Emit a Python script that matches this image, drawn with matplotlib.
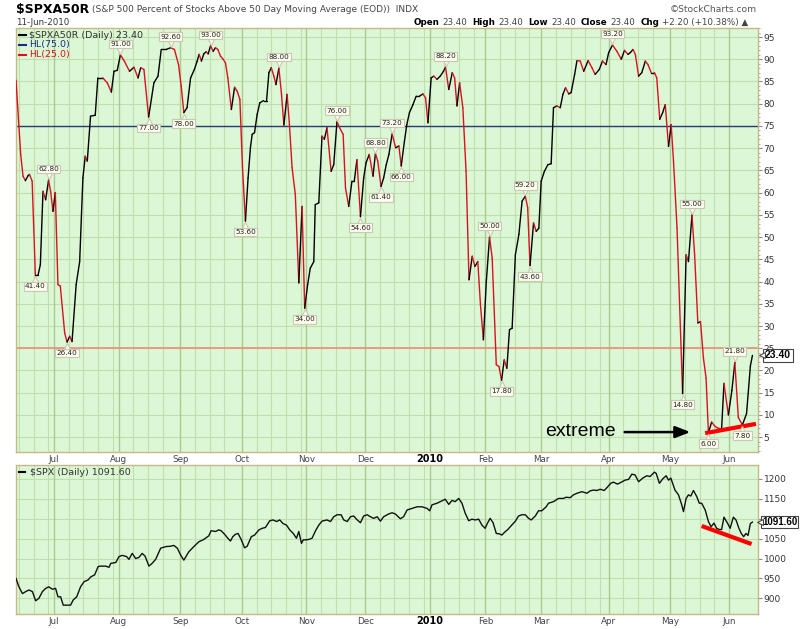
import numpy as np
import pandas as pd
import matplotlib
matplotlib.use("Agg")
import matplotlib.pyplot as plt
from matplotlib.collections import LineCollection
from matplotlib.transforms import offset_copy

# ---------------- data (x = trading session number, 0 = 1-Jul-2009) ----------------
a50_x = [-13.0, -11.4, -10.6, -9.8, -8.9, -8.4, -7.5, -6.4, -5.5, -4.7,
         -3.8, -2.9, -1.9, -1.2, -0.4, 0.4, 1.3, 2.1, 3.6, 4.4,
         5.3, 6.1, 7.5, 8.7, 9.8, 10.6, 11.3, 12.4, 14.0, 14.9,
         16.6, 18.1, 19.5, 20.4, 21.5, 22.6, 23.9, 25.7, 27.2, 28.6,
         29.5, 30.6, 32.2, 34.0, 35.4, 36.5, 38.2, 39.7, 41.0, 42.4,
         43.3, 44.2, 45.3, 46.5, 47.8, 48.7, 49.4, 50.2, 51.0, 51.8,
         52.5, 53.3, 54.2, 55.0, 55.8, 56.7, 57.6, 58.4, 59.2, 60.4,
         61.5, 62.4, 63.3, 64.2, 65.2, 66.1, 66.9, 67.5, 68.3, 69.2,
         70.1, 71.4, 72.4, 73.2, 74.0, 74.9, 75.6, 76.6, 77.5, 78.3,
         79.4, 80.2, 81.1, 82.2, 83.4, 84.5, 85.4, 86.4, 87.3, 88.5,
         89.0, 90.2, 91.3, 92.1, 93.0, 94.4, 95.3, 96.4, 97.3, 98.5,
         99.3, 100.4, 101.5, 102.3, 103.2, 104.4, 105.5, 106.3, 107.4, 108.7,
         109.5, 110.3, 111.4, 112.3, 113.2, 114.1, 115.2, 116.4, 117.5, 118.3,
         119.4, 120.2, 121.1, 122.3, 123.4, 124.5, 125.7, 126.6, 127.4, 128.5,
         129.4, 130.5, 131.6, 132.7, 133.4, 134.5, 135.7, 136.5, 137.3, 138.2,
         139.3, 140.4, 141.4, 142.5, 143.4, 144.4, 145.3, 146.3, 147.3, 148.4,
         149.3, 150.7, 151.6, 152.5, 153.4, 154.3, 155.2, 156.1, 157.2, 158.4,
         159.5, 160.6, 161.4, 162.2, 163.4, 164.3, 165.2, 166.0, 167.1, 168.3,
         169.4, 170.2, 171.3, 172.5, 173.4, 174.3, 175.4, 176.2, 177.4, 178.2,
         179.3, 180.5, 182.0, 183.3, 184.4, 185.8, 186.9, 188.1, 189.0, 190.3,
         191.8, 193.3, 194.4, 195.6, 196.4, 197.3, 198.1, 199.2, 200.3, 201.5,
         202.4, 203.5, 204.6, 205.4, 206.4, 207.4, 208.3, 209.4, 210.3, 211.1,
         212.3, 214.2, 215.4, 216.2, 217.4, 218.3, 219.4, 220.3, 221.3, 222.2,
         223.0, 224.1, 225.3, 226.4, 227.5, 228.3, 229.8, 231.0, 232.0, 233.2,
         234.6, 236.0, 237.3, 238.0]
a50_y = [85.3, 68.6, 63.7, 62.7, 63.8, 64.1, 62.6, 41.4, 41.4, 43.8,
         60.3, 58.4, 62.8, 60.3, 55.8, 60.0, 39.3, 39.0, 28.4, 26.4,
         27.7, 26.5, 39.3, 44.5, 63.3, 68.2, 67.1, 77.2, 77.4, 85.8,
         85.8, 84.7, 82.6, 87.3, 87.5, 91.0, 89.6, 87.3, 88.2, 85.8,
         88.1, 87.7, 77.0, 84.7, 86.2, 92.2, 92.2, 92.6, 92.2, 88.8,
         84.0, 78.0, 79.1, 85.8, 87.7, 89.5, 91.1, 89.6, 91.2, 91.7,
         91.2, 93.0, 91.8, 92.6, 92.2, 90.7, 90.0, 89.2, 85.8, 78.7,
         83.7, 82.8, 81.0, 65.6, 53.6, 63.3, 70.1, 73.1, 73.5, 77.6,
         80.2, 80.7, 80.7, 87.0, 88.1, 86.2, 84.3, 88.0, 82.1, 75.2,
         82.1, 75.3, 65.6, 59.6, 39.7, 56.9, 34.0, 39.3, 43.0, 44.5,
         57.3, 57.7, 72.7, 72.0, 74.6, 64.8, 66.3, 76.0, 74.6, 73.1,
         61.1, 56.9, 62.6, 62.6, 67.4, 54.6, 63.3, 66.7, 68.6, 63.7,
         68.8, 67.1, 61.4, 63.3, 66.3, 68.6, 73.2, 70.1, 70.5, 66.0,
         71.6, 75.3, 78.0, 79.8, 81.7, 81.7, 82.2, 81.3, 75.7, 85.8,
         86.2, 85.5, 86.2, 87.3, 88.2, 83.2, 87.0, 85.8, 79.5, 84.7,
         79.1, 64.8, 40.4, 45.7, 43.4, 44.5, 34.8, 26.9, 40.0, 50.0,
         45.3, 21.3, 20.9, 17.8, 22.4, 20.5, 29.2, 29.5, 46.0, 50.6,
         58.1, 59.2, 56.6, 43.6, 53.2, 51.3, 52.0, 62.6, 64.8, 66.3,
         66.5, 79.1, 79.5, 79.1, 82.1, 83.6, 82.2, 82.5, 86.6, 89.7,
         89.6, 87.3, 89.7, 88.1, 86.6, 87.7, 89.6, 88.8, 91.5, 93.2,
         91.8, 90.0, 92.0, 91.1, 91.5, 92.2, 91.1, 86.2, 87.0, 89.6,
         88.8, 87.0, 87.0, 85.8, 76.5, 78.0, 79.8, 70.4, 75.3, 67.1,
         52.1, 14.8, 46.0, 44.5, 55.0, 46.0, 30.7, 31.0, 22.8, 18.3,
         6.0, 8.4, 7.4, 7.0, 6.9, 17.1, 10.0, 15.5, 21.8, 9.4,
         7.8, 10.3, 21.0, 23.4]

spx_x = [-13.0, -12.0, -10.8, -9.7, -8.6, -7.4, -6.3, -5.2, -4.0, -2.9,
         -1.8, -0.6, 0.5, 1.3, 2.2, 3.1, 3.9, 5.6, 6.5, 7.7,
         9.0, 10.2, 11.5, 12.5, 13.8, 15.0, 15.9, 17.6, 18.7, 19.3,
         21.0, 22.1, 23.2, 24.7, 25.5, 26.6, 27.8, 28.9, 30.0, 31.0,
         32.3, 33.4, 34.6, 36.3, 38.0, 39.7, 40.8, 42.0, 43.1, 44.2,
         45.9, 47.6, 49.3, 51.0, 52.7, 53.5, 55.0, 56.1, 56.9, 58.1,
         59.2, 60.1, 60.9, 61.8, 62.7, 63.8, 64.9, 65.8, 67.2, 68.3,
         69.8, 70.9, 72.0, 73.5, 74.6, 75.8, 76.9, 78.0, 79.2, 80.3,
         81.5, 82.6, 83.4, 84.3, 84.9, 85.7, 86.8, 87.9, 89.1, 90.2,
         91.3, 93.0, 94.2, 95.3, 96.4, 97.8, 98.7, 99.9, 101.0, 102.1,
         103.3, 104.4, 105.5, 106.7, 107.8, 108.9, 110.1, 111.2, 112.3, 114.0,
         115.2, 116.3, 118.0, 119.1, 120.3, 122.0, 123.7, 125.4, 127.1, 128.0,
         128.8, 130.5, 132.2, 133.3, 134.5, 135.6, 136.7, 137.9, 139.0, 140.1,
         141.3, 142.4, 143.5, 144.7, 145.8, 146.9, 147.7, 148.6, 149.6, 150.7,
         151.8, 152.6, 153.8, 154.5, 156.0, 157.2, 158.3, 159.4, 160.6, 161.7,
         162.6, 164.0, 165.1, 166.2, 167.7, 168.5, 170.2, 171.9, 173.6, 174.5,
         175.9, 177.0, 178.2, 179.9, 181.6, 182.7, 183.8, 185.0, 186.1, 187.5,
         188.4, 189.7, 190.6, 192.0, 193.1, 194.6, 195.8, 196.9, 198.0, 199.2,
         200.6, 202.0, 203.1, 204.6, 205.2, 206.3, 207.4, 208.6, 209.4, 210.2,
         211.6, 212.8, 213.9, 214.5, 215.4, 216.2, 217.0, 217.9, 219.0, 219.9,
         220.7, 221.9, 223.0, 223.9, 224.9, 225.8, 226.7, 227.5, 228.3, 229.5,
         230.4, 231.5, 232.4, 233.4, 234.2, 235.0, 235.8, 236.5, 237.3, 238.0]
spx_y = [950, 929, 912, 917, 921, 917, 894, 900, 917, 925,
         929, 923, 925, 904, 904, 883, 883, 883, 896, 904,
         929, 942, 946, 954, 959, 980, 981, 981, 978, 988,
         990, 1005, 1008, 1005, 998, 1013, 1000, 1003, 1013, 1006,
         981, 988, 998, 1026, 1030, 1031, 1033, 1026, 1009, 996,
         1017, 1030, 1042, 1048, 1057, 1070, 1068, 1072, 1070, 1061,
         1051, 1044, 1055, 1061, 1063, 1047, 1027, 1031, 1055, 1059,
         1072, 1076, 1078, 1095, 1097, 1093, 1097, 1088, 1084, 1072,
         1063, 1051, 1068, 1038, 1047, 1047, 1048, 1051, 1070, 1084,
         1094, 1097, 1093, 1105, 1110, 1110, 1097, 1093, 1105, 1107,
         1097, 1090, 1107, 1110, 1105, 1101, 1105, 1094, 1105, 1112,
         1115, 1112, 1100, 1105, 1122, 1126, 1130, 1130, 1126, 1120,
         1135, 1139, 1145, 1149, 1136, 1146, 1143, 1151, 1139, 1114,
         1095, 1099, 1097, 1099, 1084, 1076, 1089, 1101, 1090, 1063,
         1062, 1059, 1068, 1072, 1084, 1094, 1107, 1110, 1110, 1101,
         1097, 1107, 1120, 1120, 1130, 1139, 1143, 1151, 1151, 1154,
         1153, 1160, 1164, 1168, 1164, 1170, 1172, 1171, 1174, 1171,
         1178, 1189, 1192, 1187, 1191, 1197, 1199, 1212, 1210, 1193,
         1202, 1208, 1206, 1217, 1214, 1189, 1200, 1208, 1197, 1202,
         1172, 1160, 1135, 1118, 1151, 1160, 1157, 1171, 1156, 1139,
         1139, 1122, 1093, 1080, 1089, 1076, 1073, 1073, 1104, 1089,
         1076, 1104, 1097, 1076, 1063, 1055, 1063, 1058, 1088, 1091.6]

# labelled turning points of $SPXA50R: session, value, side
tag_x = [-6.4, -1.9, 4.4, 22.6, 32.2, 39.7, 44.2, 53.3, 65.2, 76.6, 85.4, 96.4, 104.4,
         109.5, 111.4, 115.2, 118.3, 133.4, 148.4, 152.5, 160.6, 162.2, 190.3, 214.2,
         217.4, 223.0, 232.0, 234.6]
tag_v = [41.4, 62.8, 26.4, 91.0, 77.0, 92.6, 78.0, 93.0, 53.6, 88.0, 34.0, 76.0, 54.6,
         68.8, 61.4, 73.2, 66.0, 88.2, 50.0, 17.8, 59.2, 43.6, 93.2, 14.8,
         55.0, 6.0, 21.8, 7.8]
tag_side = ['b', 't', 'b', 't', 'b', 't', 'b', 't', 'b', 't', 'b', 't', 'b',
            't', 'b', 't', 'b', 't', 't', 'b', 't', 'b', 't', 'b',
            't', 'b', 't', 'b']

hl_levels = [75.0, 25.0]
a50_last, spx_last = 23.40, 1091.60
month_names = ['Jul', 'Aug', 'Sep', 'Oct', 'Nov', 'Dec', '2010', 'Feb', 'Mar', 'Apr', 'May', 'Jun']
a50_ticks = list(range(5, 100, 5))
spx_ticks = [900, 950, 1000, 1050, 1100, 1150, 1200]
spx_ticklabels = ['900', '950', '1000', '1050', '', '1150', '1200']

# hand-drawn annotations (session, value)
trend1_x, trend1_y = [221.9, 239.2], [5.9, 8.0]
trend2_x, trend2_y = [220.7, 237.7], [1081.8, 1036.5]

# ---------------- trading calendar ----------------
holidays = pd.to_datetime(['2009-07-03', '2009-09-07', '2009-11-26', '2009-12-25',
                           '2010-01-01', '2010-01-18', '2010-02-15', '2010-04-02',
                           '2010-05-31'])
cal = pd.bdate_range('2009-06-01', '2010-06-30')
cal = cal[~cal.isin(holidays)]
origin = list(cal).index(pd.Timestamp('2009-07-01'))
num = np.arange(len(cal)) - origin
months = pd.Series(num, index=cal).groupby([cal.year, cal.month]).first().values
month_starts = months[1:13]
week_lines = []
for k in range(len(months) - 1):
    s, n = months[k], months[k + 1]
    w = s + 5
    while w <= n - 2:
        week_lines.append(w)
        w += 5

XMIN, XMAX = -13.0, 239.9
BG = '#dbf7d5'
GRID = '#bfdfac'
MGRID = '#abca90'
RED = '#dc1020'

fig = plt.figure(figsize=(8, 6.29), dpi=100)
W, H = 800.0, 629.0
ax1 = fig.add_axes([16 / W, 1 - 452 / H, 742 / W, 424 / H])
ax2 = fig.add_axes([16 / W, 1 - 613.5 / H, 742 / W, 148.5 / H])


def style(ax, ticks, labels=None):
    ax.set_facecolor(BG)
    ax.set_xlim(XMIN, XMAX)
    for sp in ax.spines.values():
        sp.set_color('#c6b888')
        sp.set_linestyle((0, (1, 1)))
        sp.set_linewidth(1.0)
    ax.yaxis.tick_right()
    ax.set_yticks(ticks)
    if labels is not None:
        ax.set_yticklabels(labels)
    ax.tick_params(axis='y', direction='out', length=3, width=0.8, color='#888',
                   labelsize=6.5, labelcolor='#333', pad=1)
    ax.tick_params(axis='x', length=0, labelbottom=False)
    for w in week_lines:
        ax.axvline(w, color=GRID, lw=0.8, zorder=0.5)
    for m in month_starts:
        ax.axvline(m, color=MGRID, lw=1.0, zorder=0.6)
    for t in ticks:
        ax.axhline(t, color=GRID, lw=0.8, zorder=0.5)


def colored_line(ax, x, y, lw=1.0):
    x = np.asarray(x, float)
    y = np.asarray(y, float)
    pts = np.column_stack([x, y])
    segs = np.stack([pts[:-1], pts[1:]], axis=1)
    cols = np.where(np.diff(y) >= 0, '#000000', RED)
    ax.add_collection(LineCollection(segs, colors=cols, linewidths=lw, zorder=3,
                                     capstyle='round', joinstyle='round'))


# ---------------- top panel ----------------
style(ax1, a50_ticks)
ax1.set_ylim(1.67, 97.03)
ax1.yaxis.set_minor_locator(matplotlib.ticker.MultipleLocator(1))
ax1.tick_params(axis='y', which='minor', length=1.5, width=0.6, color='#999')
ax1.axhline(hl_levels[0], color='#2a3a78', lw=1.0, zorder=2)
ax1.axhline(hl_levels[1], color='#f08a7a', lw=1.2, zorder=2)
colored_line(ax1, a50_x, a50_y)

for x, v, s in zip(tag_x, tag_v, tag_side):
    dy = 11 if s == 't' else -11
    ax1.annotate(f'{v:.2f}', (x, v), xytext=(0, dy), textcoords='offset pixels',
                 ha='center', va='center', fontsize=5.2, color='#222',
                 bbox=dict(boxstyle='square,pad=0.18', fc='#fbfbee', ec='#c9c9b2', lw=0.8),
                 zorder=6)
    tr = offset_copy(ax1.transData, fig=fig, x=0, y=(4 if s == 't' else -4), units='dots')
    ax1.plot([x], [v], marker=('v' if s == 't' else '^'), ms=5, mfc='#fbfbee',
             mec='#c9c9b2', mew=0.8, transform=tr, zorder=5.5)

ax1.plot(trend1_x, trend1_y, color='#ff0000', lw=3, solid_capstyle='butt', zorder=4, clip_on=False)
ax1.annotate('', xy=(217.8, 6.15), xytext=(193.5, 6.15),
             arrowprops=dict(arrowstyle='-|>,head_length=0.9,head_width=0.35', color='black', lw=1.8),
             zorder=6)
ax1.text(191.3, 5.25, 'extreme', fontsize=14, family='Liberation Sans', ha='right',
         va='baseline', color='black', zorder=6)

# legend top
lx0, lx1 = 3 / 742, 10 / 742
for row, (txt, col, tcol) in enumerate([('$SPXA50R (Daily) 23.40', 'black', '#333'),
                                        ('HL(75.0)', '#1a2a88', '#1a2a88'),
                                        ('HL(25.0)', RED, RED)]):
    yy = (452 - (35 + 10 * row)) / 424
    ax1.plot([lx0, lx1], [yy, yy], transform=ax1.transAxes, color=col, lw=1.5, zorder=7)
    ax1.text(13 / 742, yy, txt, transform=ax1.transAxes, fontsize=6.8, color=tcol,
             va='center', ha='left', zorder=7)

# last value box top
ax1.annotate(f'{a50_last:.2f}', xy=(1, a50_last), xycoords=ax1.get_yaxis_transform(),
             xytext=(7, 0), textcoords='offset pixels', ha='left', va='center',
             fontsize=7.5, fontweight='bold', family='Liberation Sans', color='black',
             bbox=dict(boxstyle='square,pad=0.15', fc='white', ec='#444', lw=0.8),
             zorder=10, annotation_clip=False)
ax1.plot([1.0], [a50_last], marker='<', ms=5, mfc='white', mec='#444', mew=0.8,
         transform=offset_copy(ax1.get_yaxis_transform(), fig=fig, x=4, y=0, units='dots'),
         clip_on=False, zorder=11)

# ---------------- bottom panel ----------------
style(ax2, spx_ticks, spx_ticklabels)
ax2.set_ylim(862, 1235)
ax2.plot(spx_x, spx_y, color='#111', lw=1.0, zorder=3)
ax2.plot(trend2_x, trend2_y, color='#ff0000', lw=3, solid_capstyle='butt', zorder=4)
yy = (613.5 - 472.3) / 148.5
ax2.plot([3 / 742, 9 / 742], [yy, yy], transform=ax2.transAxes, color='black', lw=1.5)
ax2.text(14 / 742, yy, '$SPX (Daily) 1091.60', transform=ax2.transAxes, fontsize=6.8,
         color='#333', va='center', ha='left')
ax2.annotate(f'{spx_last:.2f}', xy=(1, spx_last), xycoords=ax2.get_yaxis_transform(),
             xytext=(4, 0), textcoords='offset pixels', ha='left', va='center',
             fontsize=7, fontweight='bold', family='Liberation Sans', color='black',
             bbox=dict(boxstyle='square,pad=0.12', fc='white', ec='#444', lw=0.8),
             zorder=10, annotation_clip=False)
ax2.plot([1.0], [spx_last], marker='<', ms=4.5, mfc='white', mec='#444', mew=0.8,
         transform=offset_copy(ax2.get_yaxis_transform(), fig=fig, x=2, y=0, units='dots'),
         clip_on=False, zorder=11)

# month labels under both panels
for ax, ypos in [(ax1, -7 / 424), (ax2, -8 / 148.5)]:
    for m, name in zip(month_starts, month_names):
        bold = name == '2010'
        ax.text(m, ypos, name, transform=ax.get_xaxis_transform(), ha='center', va='center',
                fontsize=6.3 if not bold else 7, fontweight='bold' if bold else 'normal',
                color='black' if bold else '#444', clip_on=False)

# ---------------- header texts ----------------
fig.canvas.draw()
r = fig.canvas.get_renderer()
t_title = fig.text(16 / W, 1 - 10 / H, '$SPXA50R', fontsize=9, fontweight='bold', va='center',
                   ha='left', color='black')
bb = t_title.get_window_extent(renderer=r)
fig.text((bb.x1 + 3) / W, 1 - 10 / H,
         '(S&P 500 Percent of Stocks Above 50 Day Moving Average (EOD))  INDX',
         fontsize=6.5, va='center', ha='left', color='#444')
fig.text(16 / W, 1 - 22.5 / H, '11-Jun-2010', fontsize=6.2, va='center', ha='left', color='#333')
fig.text(757 / W, 1 - 10 / H, '\u00a9StockCharts.com', fontsize=6.6, va='center', ha='right',
         color='#555')

pieces = [('Open', True), ('23.40', False), ('High', True), ('23.40', False), ('Low', True),
          ('23.40', False), ('Close', True), ('23.40', False), ('Chg', True),
          ('+2.20 (+10.38%) \u25b2', False)]
xpos = 414.0
for i, (s, b) in enumerate(pieces):
    t = fig.text(xpos / W, 1 - 22.5 / H, s, fontsize=6.3, fontweight='bold' if b else 'normal',
                 va='center', ha='left', color='black' if b else '#444')
    bb = t.get_window_extent(renderer=r)
    xpos = bb.x1 + (3 if b else 5)

fig.savefig('out.png', dpi=100, facecolor='white')
